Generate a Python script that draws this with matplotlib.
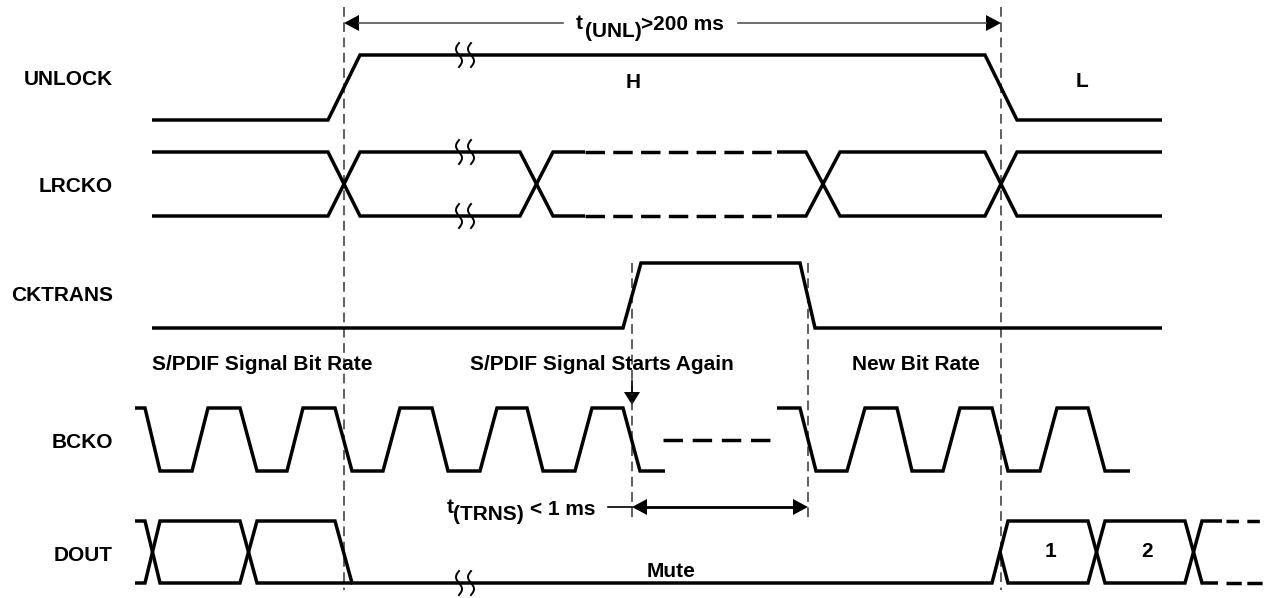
import numpy as np
import matplotlib.pyplot as plt
from matplotlib.patches import Polygon

plt.rcParams['font.family'] = ['Liberation Sans', 'DejaVu Sans']
plt.rcParams['lines.scale_dashes'] = False

# signal rows (pixel units, y grows downwards)
names = ['UNLOCK', 'LRCKO', 'CKTRANS', 'BCKO', 'DOUT']
name_base = [85, 192, 301, 448, 561]
row_hi = [55, 152, 263, 408, 521]
row_lo = [120, 216, 328, 471, 583]

# edge times and levels (1 = high, 0 = low)
unlock_t = [152, 328, 360, 985, 1017, 1162]
unlock_v = [0, 0, 1, 1, 0, 0]

lrcko_t = [152, 328, 360, 520, 553, 806, 840, 985, 1017, 1162]
lrcko_v = [1, 1, 0, 0, 1, 1, 0, 0, 1, 1]
lrcko_gap = (585, 777)

cktrans_t = [152, 623, 641, 800, 815, 1162]
cktrans_v = [0, 0, 1, 1, 0, 0]

bcko_t1 = [135, 145, 160, 192, 208, 240, 257, 287, 303, 335, 352, 383,
           400, 432, 448, 480, 497, 527, 543, 575, 592, 623, 640, 665]
bcko_v1 = [1, 1, 0, 0, 1, 1, 0, 0, 1, 1, 0, 0,
           1, 1, 0, 0, 1, 1, 0, 0, 1, 1, 0, 0]
bcko_t2 = [777, 800, 816, 847, 865, 897, 912, 943, 960, 992, 1008, 1040, 1057, 1088, 1105, 1130]
bcko_v2 = [1, 1, 0, 0, 1, 1, 0, 0, 1, 1, 0, 0, 1, 1, 0, 0]
bcko_gap = (663, 777)

dout_a_t = [135, 145, 160, 240, 257, 335, 352, 992, 1008, 1088, 1105, 1185, 1202, 1222]
dout_a_v = [1, 1, 0, 0, 1, 1, 0, 0, 1, 1, 0, 0, 1, 1]
dout_b_t1 = [135, 145, 160, 240, 257, 352]
dout_b_v1 = [0, 0, 1, 1, 0, 0]
dout_b_t2 = [1000, 1008, 1088, 1105, 1185, 1202, 1218]
dout_b_v2 = [0.5, 0, 0, 1, 1, 0, 0]
dout_tail = (1226, 1265)
dout_words = ['1', '2']
dout_word_x = [1050, 1147]

# reference lines
mark_x = [344, 1001]
trns_x = [632, 808]
breaks = [(465, 0, 1), (465, 1, 1), (465, 1, 0), (465, 4, 0)]

LW = 2.5
fig = plt.figure(figsize=(12.65, 5.98), dpi=100)
ax = fig.add_axes([0, 0, 1, 1])
ax.set_xlim(0, 1265)
ax.set_ylim(598, 0)
ax.axis('off')


def ylev(row, v):
    return row_lo[row] + v * (row_hi[row] - row_lo[row])


def wave(ts, vs, row, gap=None):
    ys = [ylev(row, v) for v in vs]
    kw = dict(color='black', lw=LW, solid_joinstyle='miter', solid_capstyle='butt')
    if gap is None:
        ax.plot(ts, ys, **kw)
        return
    a, b = gap
    ya, yb = np.interp([a, b], ts, ys)
    lx = [t for t in ts if t < a] + [a]
    ly = [y for t, y in zip(ts, ys) if t < a] + [ya]
    rx = [b] + [t for t in ts if t > b]
    ry = [yb] + [y for t, y in zip(ts, ys) if t > b]
    ax.plot(lx, ly, **kw)
    ax.plot(rx, ry, **kw)
    ax.plot([a, b], [ya, yb], color='black', lw=LW, dashes=(14, 6))


def head(x, y, d, L=15, W=8):
    dx, dy = d
    bx, by = x - dx * L, y - dy * L
    ax.add_patch(Polygon([(x, y), (bx - dy * W, by + dx * W), (bx + dy * W, by - dx * W)],
                         closed=True, color='black', lw=0))


def brk(x, row, v):
    y = ylev(row, v)
    t = np.linspace(0, 1, 40)
    for dx in (-6, 6):
        ax.plot(x + dx - 3 * np.sin(2 * np.pi * t), y - 12 + 24 * t, color='black', lw=1.4)


# vertical dashed guides
for x in mark_x:
    ax.plot([x, x], [7, 590], color='#333333', lw=1.1, dashes=(7, 4))
for x in trns_x:
    ax.plot([x, x], [263, 518], color='#333333', lw=1.1, dashes=(7, 4))

wave(unlock_t, unlock_v, 0)
wave(lrcko_t, lrcko_v, 1, lrcko_gap)
wave(lrcko_t, [1 - v for v in lrcko_v], 1, lrcko_gap)
wave(cktrans_t, cktrans_v, 2)
wave(bcko_t1, bcko_v1, 3)
wave(bcko_t2, bcko_v2, 3)
ax.plot(bcko_gap, [440, 440], color='black', lw=LW, dashes=(14, 7))
wave(dout_a_t, dout_a_v, 4)
wave(dout_b_t1, dout_b_v1, 4)
wave(dout_b_t2, dout_b_v2, 4)
ax.plot(dout_tail, [row_hi[4]] * 2, color='black', lw=LW, dashes=(9, 6), dash_capstyle='butt')
ax.plot(dout_tail, [row_lo[4]] * 2, color='black', lw=LW, dashes=(11, 4), dash_capstyle='butt')

for b in breaks:
    brk(*b)

# signal names
for n, yb in zip(names, name_base):
    ax.text(113, yb, n, ha='right', va='baseline', fontsize=15, fontweight='bold')

# t(UNL) dimension
ax.plot([359, 563], [23, 23], color='#555555', lw=1.2)
ax.plot([738, 986], [23, 23], color='#555555', lw=1.2)
head(mark_x[0], 23, (-1, 0))
head(mark_x[1], 23, (1, 0))
tk = dict(va='baseline', fontsize=15, fontweight='bold')
ax.text(576, 29, 't', **tk)
ax.text(585, 37, '(UNL)', **tk)
ax.text(641, 30, '>200 ms', **tk)

ax.text(633, 88, 'H', ha='center', va='baseline', fontsize=15, fontweight='bold')
ax.text(1082, 87, 'L', ha='center', va='baseline', fontsize=15, fontweight='bold')

ax.text(152, 370, 'S/PDIF Signal Bit Rate', ha='left', va='baseline', fontsize=15, fontweight='bold')
ax.text(602, 370, 'S/PDIF Signal Starts Again', ha='center', va='baseline', fontsize=15, fontweight='bold')
ax.text(852, 370, 'New Bit Rate', ha='left', va='baseline', fontsize=15, fontweight='bold')

# restart arrow
ax.plot([632, 632], [381, 393], color='black', lw=1.2)
head(632, 405, (0, 1), L=13, W=8)

# t(TRNS) dimension
ax.plot([608, 632], [507, 507], color='black', lw=1.2)
ax.plot([645, 795], [507, 507], color='black', lw=2)
head(trns_x[0], 507, (-1, 0))
head(trns_x[1], 507, (1, 0))
ax.text(447, 513, 't', **tk)
ax.text(453, 520, '(TRNS)', **tk)
ax.text(530, 515, '< 1 ms', **tk)

ax.text(647, 577, 'Mute', ha='left', va='baseline', fontsize=15, fontweight='bold')
for w, x in zip(dout_words, dout_word_x):
    ax.text(x, 557, w, ha='center', va='baseline', fontsize=15, fontweight='bold')

fig.savefig('out.png', dpi=100)
